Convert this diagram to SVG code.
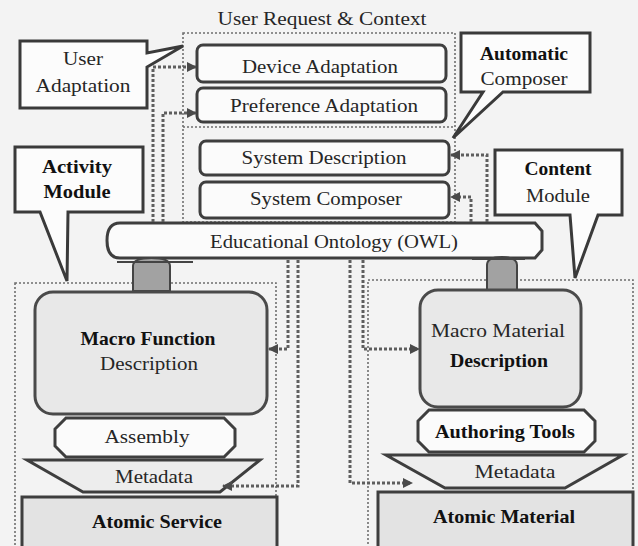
<svg xmlns="http://www.w3.org/2000/svg" width="638" height="546" viewBox="0 0 638 546">
<defs>
<marker id="ah" viewBox="0 0 10 10" refX="9" refY="5" markerWidth="10" markerHeight="10" markerUnits="userSpaceOnUse" orient="auto">
<path d="M0,0 L10,5 L0,10 Z" fill="#4a4a4a"/>
</marker>
</defs>
<style>
text{font-family:"Liberation Serif","Times New Roman",serif;font-size:19px;fill:#262626;text-anchor:middle}
.b{font-weight:bold;fill:#111}
.box{fill:#fbfbfb;stroke:#3e3e3e;stroke-width:3}
.macro{fill:#e8e8e8;stroke:#4a4a4a;stroke-width:3}
.atom{fill:#e3e3e3;stroke:#3e3e3e;stroke-width:3}
.meta{fill:#ededed;stroke:#3e3e3e;stroke-width:3}
.call{fill:#fcfcfc;stroke:#3a3a3a;stroke-width:3;stroke-linejoin:miter}
.frame{fill:none;stroke:#6e6e6e;stroke-width:1.6;stroke-dasharray:2 2}
.conn{fill:none;stroke:#5e5e5e;stroke-width:3;stroke-dasharray:3 2;marker-end:url(#ah)}
.gray{fill:#a2a2a2;stroke:#444;stroke-width:2}
</style>
<rect width="638" height="546" fill="#f3f3f3"/>

<g id="frames">
<rect class="frame" x="183" y="33" width="272" height="189"/>
<line class="frame" x1="183" y1="127" x2="455" y2="127"/>
<rect class="frame" x="15" y="283" width="261" height="270"/>
<rect class="frame" x="368" y="280" width="265" height="273"/>
</g>

<g id="title"><text x="322" y="25" textLength="209" lengthAdjust="spacingAndGlyphs">User Request &amp; Context</text></g>

<g id="device-adaptation">
<rect class="box" x="197" y="45" width="249" height="37" rx="6"/>
<text x="320" y="73" textLength="156" lengthAdjust="spacingAndGlyphs">Device Adaptation</text>
</g>
<g id="preference-adaptation">
<rect class="box" x="197" y="88" width="249" height="34" rx="6"/>
<text x="324" y="112" textLength="188" lengthAdjust="spacingAndGlyphs">Preference Adaptation</text>
</g>
<g id="system-description">
<rect class="box" x="200" y="141" width="249" height="34" rx="6"/>
<text x="324" y="164" textLength="165" lengthAdjust="spacingAndGlyphs">System Description</text>
</g>
<g id="system-composer">
<rect class="box" x="200" y="182" width="249" height="36" rx="6"/>
<text x="326" y="205" textLength="152" lengthAdjust="spacingAndGlyphs">System Composer</text>
</g>

<g id="ontology">
<path class="box" d="M120,223 H535 L542,231 V250 L535,258 H120 Q107,258 107,240.5 Q107,223 120,223 Z"/>
<text x="334" y="248" textLength="248" lengthAdjust="spacingAndGlyphs">Educational Ontology (OWL)</text>
</g>

<g id="links">
<path class="gray" d="M133,291 V266 Q133,258 151.5,258 Q170,258 170,266 V291 Z"/>
<path d="M117,262 H193" stroke="#444" stroke-width="2"/>
<path class="gray" d="M487,290 V265 Q487,257 502,257 Q517,257 517,265 V290 Z"/>
<path d="M472,259 H525" stroke="#444" stroke-width="2"/>
</g>

<g id="user-adaptation">
<path class="call" d="M20,41 H147 V53 L183,46 L147,67 V108 H20 Z"/>
<text x="83" y="65" textLength="40" lengthAdjust="spacingAndGlyphs">User</text>
<text x="83" y="92" textLength="95" lengthAdjust="spacingAndGlyphs">Adaptation</text>
</g>
<g id="activity-module">
<path class="call" d="M15,147 H143 V212 H68 L67,281 L40,212 H15 Z"/>
<text class="b" x="77" y="173" textLength="70" lengthAdjust="spacingAndGlyphs">Activity</text>
<text class="b" x="77" y="198" textLength="67" lengthAdjust="spacingAndGlyphs">Module</text>
</g>
<g id="automatic-composer">
<path class="call" d="M461,33 H590 V92 H503 L453,138 L483,92 H461 Z"/>
<text class="b" x="524" y="60" textLength="88" lengthAdjust="spacingAndGlyphs">Automatic</text>
<text x="524" y="85" textLength="87" lengthAdjust="spacingAndGlyphs">Composer</text>
</g>
<g id="content-module">
<path class="call" d="M495,150 H622 V215 H598 L575,278 L570,215 H495 Z"/>
<text class="b" x="558" y="175" textLength="67" lengthAdjust="spacingAndGlyphs">Content</text>
<text x="558" y="202" textLength="64" lengthAdjust="spacingAndGlyphs">Module</text>
</g>

<g id="macro-function">
<rect class="macro" x="35" y="292" width="232" height="122" rx="18"/>
<text class="b" x="148" y="345" textLength="135" lengthAdjust="spacingAndGlyphs">Macro Function</text>
<text x="149" y="370" textLength="98" lengthAdjust="spacingAndGlyphs">Description</text>
</g>
<g id="assembly">
<path class="box" d="M66,418 H224 L235,429 V446 L224,457 H66 L55,446 V429 Z"/>
<text x="147" y="443" textLength="85" lengthAdjust="spacingAndGlyphs">Assembly</text>
</g>
<g id="metadata-left">
<path class="meta" d="M27,460 H260 L220,492 H83 Z"/>
<text x="154" y="483" textLength="78" lengthAdjust="spacingAndGlyphs">Metadata</text>
</g>
<g id="atomic-service">
<rect class="atom" x="22" y="497" width="255" height="56"/>
<text class="b" x="157" y="528" textLength="130" lengthAdjust="spacingAndGlyphs">Atomic Service</text>
</g>

<g id="macro-material">
<rect class="macro" x="420" y="290" width="161" height="117" rx="18"/>
<text x="498" y="337" textLength="134" lengthAdjust="spacingAndGlyphs">Macro Material</text>
<text class="b" x="499" y="367" textLength="98" lengthAdjust="spacingAndGlyphs">Description</text>
</g>
<g id="authoring-tools">
<path class="box" d="M429,410 H584 L595,421 V441 L584,452 H429 L418,441 V421 Z"/>
<text class="b" x="505" y="438" textLength="140" lengthAdjust="spacingAndGlyphs">Authoring Tools</text>
</g>
<g id="metadata-right">
<path class="meta" d="M386,455 H623 L565,488 H445 Z"/>
<text x="515" y="478" textLength="81" lengthAdjust="spacingAndGlyphs">Metadata</text>
</g>
<g id="atomic-material">
<rect class="atom" x="378" y="492" width="255" height="61"/>
<text class="b" x="504" y="523" textLength="142" lengthAdjust="spacingAndGlyphs">Atomic Material</text>
</g>

<g id="connectors">
<path class="conn" d="M153,222 V67 H196"/>
<path class="conn" d="M163,222 V113 H196"/>
<path class="conn" d="M487,222 V155 H451"/>
<path class="conn" d="M471,222 V197 H451"/>
<path class="conn" d="M288,260 V349 H269"/>
<path class="conn" d="M298,260 V486 H223"/>
<path class="conn" d="M350,260 V483 H412"/>
<path class="conn" d="M363,260 V349 H419"/>
</g>
</svg>
